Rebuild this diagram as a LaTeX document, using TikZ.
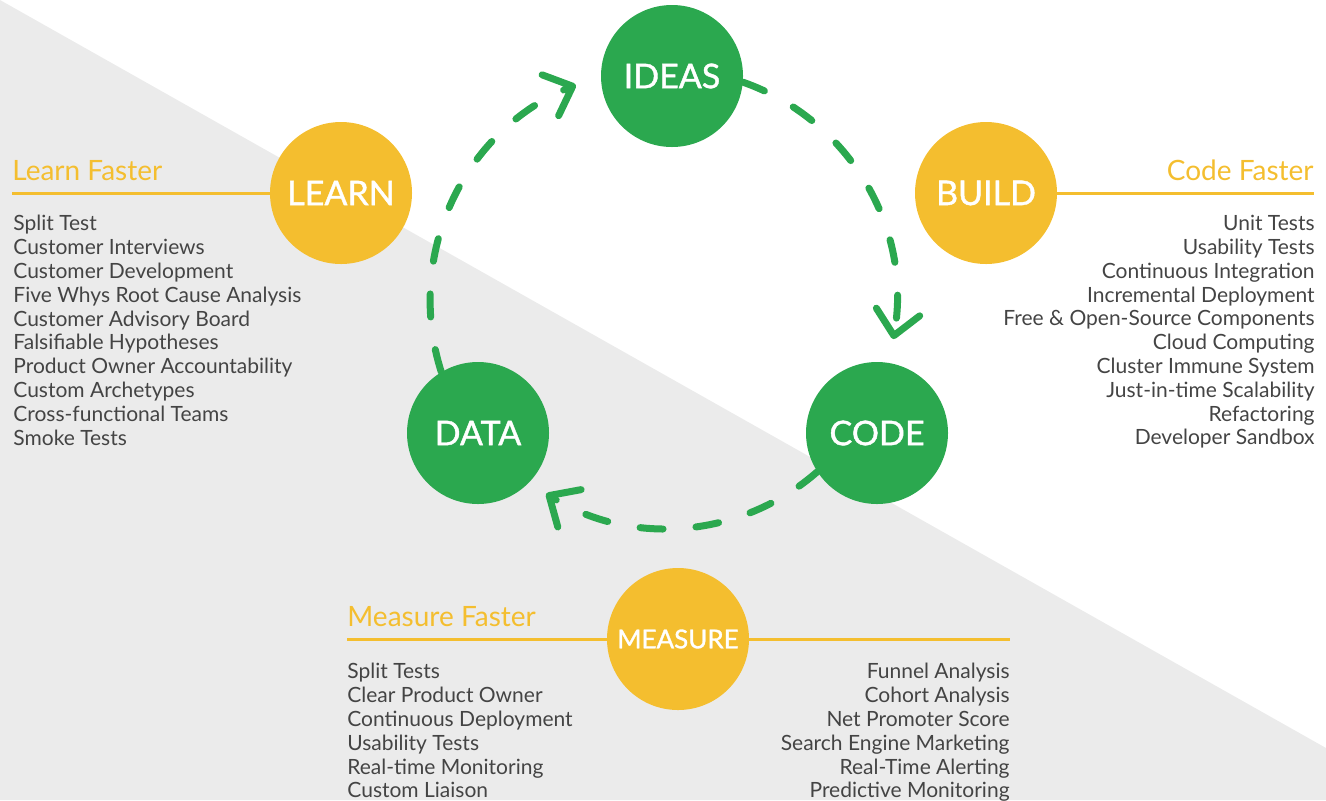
\documentclass[tikz,border=0pt]{standalone}
\usepackage{fontspec}
\setmainfont{Lato}
\newfontfamily\stagefont[FakeBold=1.2]{Lato}
\usetikzlibrary{arrows.meta,positioning,calc}
\definecolor{leangreen}{HTML}{2BA84F}
\definecolor{leanyellow}{HTML}{F4BE2F}
\definecolor{leangray}{HTML}{EBEBEB}
\definecolor{leantext}{HTML}{444444}

\begin{document}
\begin{tikzpicture}[
    x=0.5pt,y=-0.5pt,
    stage/.style={circle,fill=leangreen,text=white,minimum size=71pt,
                  inner sep=0pt,font=\stagefont\fontsize{17}{19}\selectfont},
    lever/.style={stage,fill=leanyellow},
    head/.style={text=leanyellow,inner sep=0pt,font=\fontsize{14}{16}\selectfont},
    items/.style={text=leantext,inner sep=0pt,font=\fontsize{10.5}{11.9}\selectfont},
    rule/.style={leanyellow,line width=1.5pt},
    flow/.style={leangreen,line width=3.5pt,line cap=round,
                 dash pattern=on 11.5pt off 16.5pt,
                 -{Straight Barb[length=12pt,width=22pt,round]}}
  ]
    \useasboundingbox (0,0) rectangle (1326,800);
    \fill[leangray] (0,0) -- (1326,748) |- (0,800) -- cycle;

    \node[stage] (ideas) at (672,76) {IDEAS};
    \node[stage] (data) at (478,433) {DATA};
    \node[stage] (code) at (877,433) {CODE};
    \node[lever] (learn) at (341,193) {LEARN};
    \node[lever] (build) at (986,193) {BUILD};
    \node[lever,font=\stagefont\fontsize{13}{15}\selectfont] (measure) at (678,639) {MEASURE};

    \draw[flow] (data.121) arc[start angle=-197.7,end angle=-112,radius=233];
    \draw[flow] (ideas.-5) arc[start angle=-70.6,end angle=10,radius=230];
    \draw[flow] (code.213) arc[start angle=48.8,end angle=122,radius=228];

    \coordinate (lend) at (12,193);
    \coordinate (rend) at (1314,193);
    \coordinate (mleft) at (347,639);
    \coordinate (mright) at (1010,639);
    \draw[rule] (learn) -- (lend);
    \draw[rule] (build) -- (rend);
    \draw[rule] (mleft) -- (measure) -- (mright);

    \node[head,above right=6pt and 0pt of lend] (lhead) {Learn Faster};
    \node[head,above left=6pt and 0pt of rend] (chead) {Code Faster};
    \node[head,above right=6pt and 0pt of mleft] (mhead) {Measure Faster};

    \node[items,below right=11pt and 0.5pt of lend,align=left] (llist)
      {Split Test\\Customer Interviews\\Customer Development\\
       Five Whys Root Cause Analysis\\Customer Advisory Board\\
       Falsifiable Hypotheses\\Product Owner Accountability\\
       Custom Archetypes\\Cross-functional Teams\\Smoke Tests};
    \node[items,below left=11pt and -0.5pt of rend,align=right] (clist)
      {Unit Tests\\Usability Tests\\Continuous Integration\\
       Incremental Deployment\\Free \& Open-Source Components\\
       Cloud Computing\\Cluster Immune System\\Just-in-time Scalability\\
       Refactoring\\Developer Sandbox};
    \node[items,below right=12pt and 0pt of mleft,align=left] (mlist)
      {Split Tests\\Clear Product Owner\\Continuous Deployment\\
       Usability Tests\\Real-time Monitoring\\Custom Liaison};
    \node[items,below left=12pt and 0pt of mright,align=right] (rlist)
      {Funnel Analysis\\Cohort Analysis\\Net Promoter Score\\
       Search Engine Marketing\\Real-Time Alerting\\Predictive Monitoring};
\end{tikzpicture}
\end{document}
